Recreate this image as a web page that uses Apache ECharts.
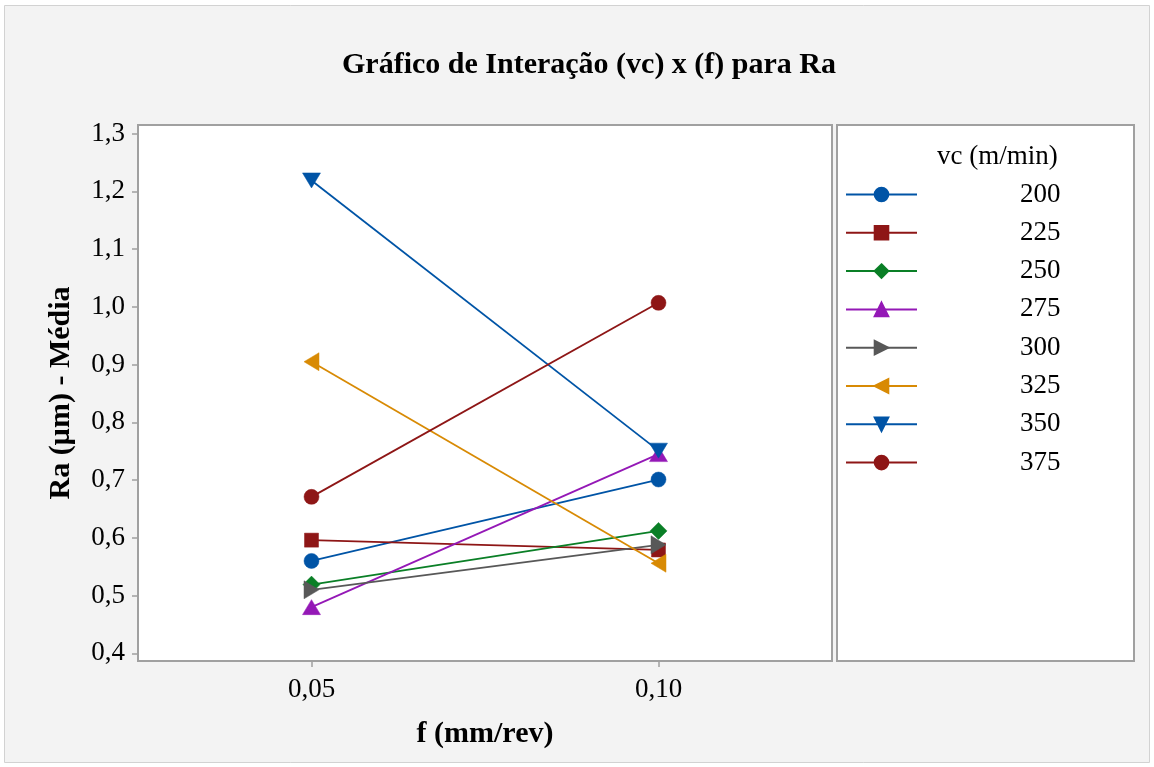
<!DOCTYPE html>
<html>
<head>
<meta charset="utf-8">
<script src="https://cdn.jsdelivr.net/npm/echarts@6/dist/echarts.min.js"></script>
<style>
  html, body { margin: 0; padding: 0; background: #ffffff; }
  #chart { width: 1154px; height: 767px; }
</style>
</head>
<body>
<div id="chart"></div>
<script>
// Interaction plot: mean Ra for each cutting speed (vc) at two feed rates (f)
const feedLabels = ['0,05', '0,10'];
const yTicks = [0.4, 0.5, 0.6, 0.7, 0.8, 0.9, 1.0, 1.1, 1.2, 1.3];

const vc200 = [0.560, 0.701];
const vc225 = [0.596, 0.579];
const vc250 = [0.519, 0.612];
const vc275 = [0.480, 0.745];
const vc300 = [0.510, 0.588];
const vc325 = [0.905, 0.556];
const vc350 = [1.219, 0.751];
const vc375 = [0.671, 1.007];

const tri = [18, 15];
const seriesDefs = [
  { name: '200', data: vc200, color: '#0054a6', symbol: 'circle', size: 15, rotate: 0 },
  { name: '225', data: vc225, color: '#8e1616', symbol: 'rect', size: 14, rotate: 0 },
  { name: '250', data: vc250, color: '#0a7f26', symbol: 'diamond', size: 17, rotate: 0 },
  { name: '275', data: vc275, color: '#9418b6', symbol: 'triangle', size: tri, rotate: 0 },
  { name: '300', data: vc300, color: '#585858', symbol: 'triangle', size: tri, rotate: -90 },
  { name: '325', data: vc325, color: '#d88a04', symbol: 'triangle', size: tri, rotate: 90 },
  { name: '350', data: vc350, color: '#0054a6', symbol: 'triangle', size: tri, rotate: 180 },
  { name: '375', data: vc375, color: '#8e1616', symbol: 'circle', size: 15, rotate: 0 }
];

const serif = '"Liberation Serif", "DejaVu Serif", serif';
const fmt = v => v.toFixed(1).replace('.', ',');

const chart = echarts.init(document.getElementById('chart'), null, { renderer: 'canvas' });

chart.setOption({
  animation: false,
  backgroundColor: '#ffffff',
  graphic: [
    { type: 'rect', z: -10, silent: true,
      shape: { x: 4.5, y: 5.5, width: 1145, height: 757 },
      style: { fill: '#f3f3f3', stroke: '#d2d2d2', lineWidth: 1 } },
    { type: 'rect', z: -5, silent: true,
      shape: { x: 837, y: 125, width: 297, height: 536 },
      style: { fill: '#ffffff', stroke: '#a0a0a0', lineWidth: 2 } }
  ],
  title: [
    { text: 'Gráfico de Interação (vc) x (f) para Ra', left: 584, top: 45, textAlign: 'center',
      textStyle: { fontFamily: serif, fontSize: 30, fontWeight: 'bold', color: '#000' } },
    { text: 'vc (m/min)', left: 932, top: 138,
      textStyle: { fontFamily: serif, fontSize: 27, fontWeight: 'normal', color: '#000' } }
  ],
  grid: {
    left: 138, top: 125, width: 694, height: 536,
    show: true, backgroundColor: '#ffffff', borderColor: '#a0a0a0', borderWidth: 2
  },
  legend: {
    orient: 'vertical', left: 845, top: 179.5, padding: 0,
    itemWidth: 71, itemHeight: 17, itemGap: 8.3,
    data: seriesDefs.map(s => s.name),
    textStyle: { fontFamily: serif, fontSize: 27, color: '#000', lineHeight: 30, padding: [0, 0, 0, 98] }
  },
  xAxis: {
    type: 'category', data: feedLabels, boundaryGap: true,
    name: 'f (mm/rev)', nameLocation: 'middle', nameGap: 58,
    nameTextStyle: { fontFamily: serif, fontSize: 30, fontWeight: 'bold', color: '#000' },
    axisLine: { show: false },
    axisTick: { show: true, alignWithLabel: true, length: 6, lineStyle: { color: '#a0a0a0', width: 1.5 } },
    axisLabel: { fontFamily: serif, fontSize: 27, color: '#000', margin: 15 },
    splitLine: { show: false }
  },
  yAxis: {
    type: 'value', min: 0.3867, max: 1.315,
    name: 'Ra (µm) - Média', nameLocation: 'middle', nameGap: 62, nameRotate: 90,
    nameTextStyle: { fontFamily: serif, fontSize: 30, fontWeight: 'bold', color: '#000' },
    axisLine: { show: false },
    axisTick: { show: true, customValues: yTicks, length: 6, lineStyle: { color: '#a0a0a0', width: 1.5 } },
    axisLabel: { customValues: yTicks, formatter: fmt, fontFamily: serif, fontSize: 27, color: '#000', margin: 13 },
    splitLine: { show: false }
  },
  series: seriesDefs.map(s => ({
    type: 'line', name: s.name, data: s.data,
    symbol: s.symbol, symbolSize: s.size, symbolRotate: s.rotate, showSymbol: true,
    lineStyle: { color: s.color, width: 1.8 },
    itemStyle: { color: s.color, borderColor: s.color, borderWidth: 0.5 },
    emphasis: { disabled: true }
  }))
});
</script>
</body>
</html>
